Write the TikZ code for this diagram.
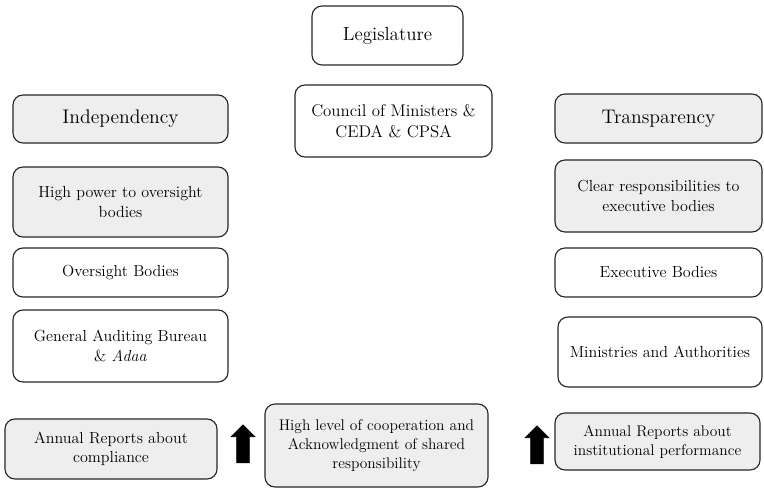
\documentclass[tikz,border=0pt]{standalone}
\usepackage{tikz}
\usetikzlibrary{shapes,arrows}
\definecolor{boxgrey}{RGB}{238,238,238}

\begin{document}
\begin{tikzpicture}[x=0.025cm,y=-0.025cm,
    plain box/.style={draw=black!85,line width=0.8pt,rounded corners=0.25cm,
        align=center,inner sep=2pt,font=\fontsize{11.4}{13.8}\selectfont},
    grey box/.style={plain box,fill=boxgrey},
    head box/.style={grey box,font=\fontsize{14}{17}\selectfont},
    up arrow/.style={single arrow,fill=black,draw=black,shape border rotate=90,
        inner sep=0.15cm,single arrow head extend=0.14cm,minimum height=0.95cm}]
  \useasboundingbox (0,0) rectangle (764,492);

  % centre column
  \node[plain box,minimum width=3.775cm,minimum height=1.475cm,
        font=\fontsize{13.5}{16}\selectfont] (leg) at (387.5,35.5) {Legislature};
  \node[plain box,minimum width=4.925cm,minimum height=1.8cm,
        font=\fontsize{12}{14.5}\selectfont] (com) at (393.5,121)
        {Council of Ministers \&\\CEDA \& CPSA};

  % left column
  \node[head box,minimum width=5.375cm,minimum height=1.2cm] (ind) at (120.5,119) {Independency};
  \node[grey box,minimum width=5.375cm,minimum height=1.75cm] (hpo) at (120.5,202)
        {High power to oversight\\bodies};
  \node[plain box,minimum width=5.375cm,minimum height=1.225cm] (ovb) at (120.5,272.5) {Oversight Bodies};
  \node[plain box,minimum width=5.375cm,minimum height=1.8cm] (gab) at (120.5,346)
        {General Auditing Bureau\\\& \textit{Adaa}};

  % right column
  \node[head box,minimum width=5.175cm,minimum height=1.225cm] (tra) at (658.5,118.5) {Transparency};
  \node[grey box,minimum width=5.175cm,minimum height=1.8cm] (clr) at (658.5,196)
        {Clear responsibilities to\\executive bodies};
  \node[plain box,minimum width=5.175cm,minimum height=1.225cm] (exb) at (658.5,272.5) {Executive Bodies};
  \node[plain box,minimum width=5.1cm,minimum height=1.75cm] (min) at (660,352)
        {Ministries and Authorities};

  % bottom row
  \node[grey box,minimum width=5.3cm,minimum height=1.5cm] (arc) at (111,449)
        {Annual Reports about\\compliance};
  \node[grey box,minimum width=5.575cm,minimum height=2.075cm,
        font=\fontsize{11}{13.5}\selectfont] (coop) at (376.5,445.5)
        {High level of cooperation and\\Acknowledgment of shared\\responsibility};
  \node[grey box,minimum width=5.125cm,minimum height=1.425cm,
        font=\fontsize{11}{13.5}\selectfont] (arp) at (657.5,441.5)
        {Annual Reports about\\institutional performance};

  \node[up arrow] (upl) at (243,447) {};
  \node[up arrow] (upr) at (537,448) {};
\end{tikzpicture}
\end{document}
